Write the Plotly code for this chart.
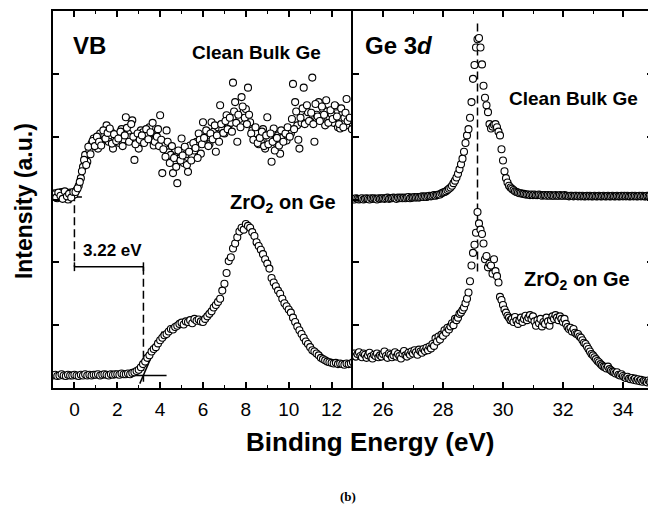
import numpy as np
import plotly.graph_objects as go

# ---------------- data ----------------
# Valence band (VB) energy grid, eV
vb_energy = np.round(np.arange(-1.0, 13.0001, 0.1), 2)
vb_energy_b = np.round(np.arange(-0.95, 12.96, 0.1), 2)
vb_clean = [
    3.05, 3.10, 3.02, 3.08, 3.12, 3.04, 3.09, 3.00, 3.11, 3.06,
    3.08, 3.15, 3.22, 3.34, 3.52, 3.71, 3.60, 3.78, 3.89, 3.97,
    3.88, 3.81, 4.05, 3.95, 4.02, 4.18, 3.92, 4.08, 3.81, 3.98,
    4.02, 3.90, 4.12, 3.96, 4.31, 4.05, 3.99, 4.26, 3.63, 3.94,
    3.81, 4.10, 4.07, 3.98, 4.03, 4.15, 3.95, 3.86, 4.02, 4.12,
    4.34, 3.42, 3.88, 4.10, 3.75, 3.71, 3.42, 3.68, 3.26, 3.65,
    3.97, 3.58, 3.72, 3.44, 3.86, 3.70, 3.78, 3.92, 4.05, 3.73,
    4.23, 3.90, 4.02, 3.88, 4.23, 4.08, 3.76, 4.15, 4.50, 4.12,
    4.05, 4.34, 4.18, 4.22, 4.86, 4.55, 3.92, 4.28, 4.63, 4.40,
    4.44, 4.78, 4.23, 4.10, 3.99, 4.05, 3.88, 3.92, 4.12, 3.81,
    4.31, 3.95, 3.60, 4.13, 3.90, 4.02, 3.73, 3.98, 4.08, 3.94,
    4.10, 4.05, 4.84, 4.55, 4.18, 3.81, 4.22, 4.78, 4.32, 4.39,
    4.25, 4.94, 3.92, 4.35, 4.55, 4.28, 4.44, 4.18, 4.40, 4.30,
    4.36, 4.22, 4.48, 4.15, 4.13, 4.36, 4.30, 4.60, 4.18, 4.25,
    4.20,
]
vb_clean_b = [
    3.08, 3.03, 3.11, 3.06, 3.01, 3.13, 3.05, 3.09, 3.03, 3.12,
    3.12, 3.18, 3.28, 3.45, 3.63, 3.55, 3.84, 3.72, 3.93, 3.85,
    4.00, 3.92, 3.86, 4.10, 3.97, 4.06, 4.13, 3.89, 4.04, 3.93,
    3.97, 4.08, 3.85, 4.02, 4.14, 3.92, 4.20, 4.00, 3.88, 4.05,
    3.95, 4.02, 3.90, 4.12, 3.96, 4.07, 4.22, 3.92, 4.00, 3.85,
    3.95, 3.80, 3.68, 3.92, 3.58, 3.85, 3.66, 3.52, 3.78, 3.62,
    3.70, 3.84, 3.55, 3.76, 3.62, 3.90, 3.82, 3.66, 3.95, 3.88,
    3.98, 4.10, 3.85, 4.05, 3.96, 4.18, 4.02, 3.92, 4.20, 4.06,
    4.25, 4.12, 4.30, 4.08, 4.40, 4.22, 4.35, 4.15, 4.48, 4.30,
    4.20, 4.35, 4.05, 3.95, 4.15, 3.90, 3.98, 4.08, 3.85, 4.02,
    3.88, 4.05, 3.92, 3.78, 3.98, 3.86, 4.10, 3.92, 4.05, 4.15,
    4.00, 4.28, 4.12, 4.40, 3.95, 4.30, 4.45, 4.20, 4.50, 4.25,
    4.38, 4.20, 4.52, 4.32, 4.25, 4.48, 4.35, 4.58, 4.22, 4.42,
    4.28, 4.50, 4.32, 4.20, 4.45, 4.15, 4.38, 4.25, 4.30, 4.12,
]
vb_zro2 = [
    0.20, 0.21, 0.19, 0.20, 0.22, 0.20, 0.19, 0.21, 0.20, 0.20,
    0.21, 0.20, 0.19, 0.21, 0.20, 0.22, 0.20, 0.21, 0.20, 0.21,
    0.21, 0.22, 0.20, 0.21, 0.22, 0.21, 0.20, 0.22, 0.21, 0.22,
    0.22, 0.21, 0.23, 0.22, 0.22, 0.23, 0.22, 0.24, 0.25, 0.27,
    0.29, 0.33, 0.38, 0.42, 0.48, 0.52, 0.58, 0.62, 0.65, 0.71,
    0.76, 0.80, 0.84, 0.86, 0.90, 0.94, 0.93, 0.97, 0.99, 1.02,
    1.04, 1.01, 1.06, 1.05, 1.08, 1.03, 1.10, 1.07, 1.09, 1.06,
    1.05, 1.10, 1.14, 1.18, 1.22, 1.28, 1.32, 1.37, 1.42, 1.55,
    1.66, 1.83, 2.02, 2.08, 2.22, 2.30, 2.40, 2.49, 2.55, 2.52,
    2.61, 2.58, 2.55, 2.48, 2.42, 2.32, 2.26, 2.20, 2.13, 2.05,
    1.98, 1.90, 1.75, 1.68, 1.62, 1.55, 1.50, 1.42, 1.35, 1.30,
    1.25, 1.20, 1.12, 1.05, 0.98, 0.92, 0.86, 0.80, 0.74, 0.70,
    0.65, 0.60, 0.58, 0.55, 0.52, 0.48, 0.46, 0.44, 0.42, 0.41,
    0.40, 0.39, 0.40, 0.38, 0.39, 0.38, 0.37, 0.39, 0.38, 0.39,
    0.41,
]

# Ge 3d core level energy grid, eV
ge_energy = np.round(np.arange(25.0, 35.0001, 0.05), 2)
ge_clean = [
    3.01, 3.00, 3.02, 3.01, 3.00, 3.01, 3.02, 3.00, 3.01, 3.02, 3.01, 3.00, 3.02, 3.01, 3.02, 3.01, 3.00, 3.02, 3.01, 3.02,
    3.02, 3.01, 3.02, 3.03, 3.01, 3.02, 3.02, 3.03, 3.02, 3.01, 3.03, 3.02, 3.03, 3.02, 3.03, 3.02, 3.03, 3.04, 3.02, 3.03,
    3.03, 3.04, 3.03, 3.04, 3.03, 3.04, 3.05, 3.04, 3.05, 3.04, 3.05, 3.06, 3.05, 3.06, 3.07, 3.06, 3.07, 3.08, 3.08, 3.10,
    3.11, 3.12, 3.13, 3.15, 3.17, 3.19, 3.22, 3.26, 3.30, 3.35, 3.41, 3.48, 3.56, 3.65, 3.76, 3.90, 4.02, 4.12, 4.30, 4.55,
    4.92, 5.14, 5.42, 5.55, 5.57, 5.42, 5.15, 4.81, 4.62, 4.50, 4.39, 4.20, 4.13, 4.16, 4.19, 4.20, 4.15, 4.08, 4.02, 3.80,
    3.62, 3.45, 3.34, 3.27, 3.22, 3.19, 3.17, 3.15, 3.13, 3.12, 3.11, 3.10, 3.10, 3.09, 3.09, 3.08, 3.08, 3.08, 3.07, 3.08,
    3.07, 3.08, 3.07, 3.07, 3.08, 3.07, 3.06, 3.07, 3.07, 3.06, 3.07, 3.06, 3.07, 3.06, 3.06, 3.07, 3.06, 3.06, 3.07, 3.06,
    3.06, 3.07, 3.06, 3.06, 3.05, 3.06, 3.06, 3.05, 3.06, 3.06, 3.05, 3.06, 3.05, 3.06, 3.05, 3.05, 3.06, 3.05, 3.06, 3.05,
    3.05, 3.06, 3.05, 3.05, 3.06, 3.05, 3.05, 3.06, 3.05, 3.05, 3.06, 3.05, 3.05, 3.06, 3.05, 3.05, 3.06, 3.05, 3.05, 3.06,
    3.05, 3.06, 3.05, 3.06, 3.05, 3.05, 3.06, 3.05, 3.06, 3.05, 3.05, 3.06, 3.05, 3.06, 3.05, 3.05, 3.06, 3.05, 3.06, 3.05,
    3.05,
]
ge_zro2 = [
    0.52, 0.55, 0.50, 0.54, 0.57, 0.51, 0.49, 0.55, 0.53, 0.48, 0.52, 0.56, 0.50, 0.47, 0.53, 0.51, 0.55, 0.49, 0.52, 0.50,
    0.54, 0.58, 0.51, 0.48, 0.55, 0.53, 0.49, 0.52, 0.57, 0.50, 0.54, 0.51, 0.47, 0.55, 0.59, 0.52, 0.50, 0.56, 0.53, 0.58,
    0.55, 0.60, 0.57, 0.53, 0.61, 0.58, 0.56, 0.62, 0.59, 0.64, 0.60, 0.66, 0.63, 0.70, 0.67, 0.79, 0.74, 0.82, 0.77, 0.85,
    0.83, 0.92, 0.88, 0.96, 0.93, 0.98, 1.03, 1.00, 1.10, 1.08, 1.12, 1.18, 1.20, 1.24, 1.28, 1.35, 1.42, 1.52, 1.70, 1.95,
    2.15, 2.28, 2.47, 2.80, 2.62, 2.52, 2.45, 2.30, 2.05, 2.10, 1.92, 1.98, 1.95, 1.82, 2.05, 1.86, 1.78, 1.68, 1.45, 1.40,
    1.32, 1.25, 1.20, 1.15, 1.12, 1.08, 1.10, 1.05, 1.13, 1.07, 1.02, 1.08, 1.12, 1.05, 1.10, 1.15, 1.08, 1.12, 1.16, 1.10,
    1.14, 1.06, 0.99, 1.08, 1.03, 1.10, 0.98, 1.05, 1.02, 1.12, 1.06, 0.99, 1.08, 1.14, 1.10, 1.16, 1.12, 1.08, 1.14, 1.10,
    1.05, 1.10, 1.02, 0.97, 0.94, 0.96, 0.90, 0.94, 0.88, 0.86, 0.86, 0.82, 0.80, 0.76, 0.72, 0.70, 0.66, 0.62, 0.58, 0.54,
    0.52, 0.49, 0.46, 0.43, 0.41, 0.38, 0.36, 0.34, 0.33, 0.31, 0.34, 0.30, 0.28, 0.26, 0.25, 0.23, 0.25, 0.21, 0.20, 0.22,
    0.19, 0.17, 0.16, 0.18, 0.15, 0.14, 0.16, 0.13, 0.15, 0.12, 0.14, 0.11, 0.13, 0.10, 0.12, 0.11, 0.09, 0.12, 0.10, 0.11,
    0.10,
]

# guide lines (linear extrapolations / markers), data units
clean_base_x = [-1.0, 0.35]
clean_base_y = [3.04, 3.04]
clean_edge_x = [-0.19, 0.9]
clean_edge_y = [2.94, 3.92]
zro2_base_x = [-1.0, 4.3]
zro2_base_y = [0.2, 0.2]
zro2_edge_x = [3.05, 4.1]
zro2_edge_y = [0.07, 0.9]
vbm_clean = 0.0
vbm_zro2 = 3.22
offset_level = 1.93
ge3d_peak = 29.15

vb_ticks = [0, 2, 4, 6, 8, 10, 12]
ge_ticks = [26, 28, 30, 32, 34]

# ---------------- figure ----------------
fig = go.Figure()
BLACK = "black"
line_style = dict(color=BLACK, width=1.5)
dash_style = dict(color=BLACK, width=1.5, dash="8px,4px")

# guide lines (drawn under markers)
fig.add_trace(go.Scatter(x=clean_base_x, y=clean_base_y, mode="lines", line=line_style, xaxis="x", yaxis="y"))
fig.add_trace(go.Scatter(x=clean_edge_x, y=clean_edge_y, mode="lines", line=line_style, xaxis="x", yaxis="y"))
fig.add_trace(go.Scatter(x=zro2_base_x, y=zro2_base_y, mode="lines", line=line_style, xaxis="x", yaxis="y"))
fig.add_trace(go.Scatter(x=zro2_edge_x, y=zro2_edge_y, mode="lines", line=line_style, xaxis="x", yaxis="y"))
fig.add_trace(go.Scatter(x=[vbm_clean, vbm_clean], y=[3.1, offset_level], mode="lines", line=dash_style, xaxis="x", yaxis="y"))
fig.add_trace(go.Scatter(x=[vbm_zro2, vbm_zro2], y=[offset_level, 0.1], mode="lines", line=dash_style, xaxis="x", yaxis="y"))
fig.add_trace(go.Scatter(x=[vbm_clean, vbm_zro2], y=[offset_level, offset_level], mode="lines", line=line_style, xaxis="x", yaxis="y"))
for xv in (vbm_clean, vbm_zro2):
    fig.add_trace(go.Scatter(x=[xv, xv], y=[offset_level - 0.07, offset_level + 0.07], mode="lines",
                             line=line_style, xaxis="x", yaxis="y"))
fig.add_trace(go.Scatter(x=[ge3d_peak, ge3d_peak], y=[5.8, 1.85], mode="lines", line=dash_style, xaxis="x2", yaxis="y2"))

marker = dict(symbol="circle", size=7, color="white", line=dict(color=BLACK, width=1.1))
fig.add_trace(go.Scatter(x=vb_energy, y=vb_zro2, mode="markers", marker=marker, xaxis="x", yaxis="y"))
fig.add_trace(go.Scatter(x=vb_energy, y=vb_clean, mode="markers", marker=marker, xaxis="x", yaxis="y"))
fig.add_trace(go.Scatter(x=vb_energy_b, y=vb_clean_b, mode="markers", marker=marker, xaxis="x", yaxis="y"))
fig.add_trace(go.Scatter(x=ge_energy, y=ge_zro2, mode="markers", marker=marker, xaxis="x2", yaxis="y2"))
fig.add_trace(go.Scatter(x=ge_energy, y=ge_clean, mode="markers", marker=marker, xaxis="x2", yaxis="y2"))

FONT = "Liberation Sans, Arial, sans-serif"
xcommon = dict(showline=True, linewidth=2, linecolor=BLACK, mirror="ticks", ticks="inside",
               ticklen=6, tickwidth=1.5, tickcolor=BLACK, showgrid=False, zeroline=False,
               ticklabelstandoff=3,
               tickfont=dict(family=FONT, size=19, color=BLACK),
               minor=dict(ticks="inside", ticklen=3, tickwidth=1, tickcolor=BLACK, dtick=1))
ycommon = dict(showline=True, linewidth=2, linecolor=BLACK, ticks="inside",
               ticklen=6, tickwidth=1.5, tickcolor=BLACK, showgrid=False, zeroline=False,
               range=[0, 6], dtick=1, showticklabels=False)

fig.update_layout(
    width=648, height=498,
    margin=dict(l=45, r=1, t=1, b=118),
    paper_bgcolor="white", plot_bgcolor="white",
    showlegend=False,
    xaxis=dict(domain=[0, 0.5], range=[-1, 13], tickvals=vb_ticks, anchor="y", **xcommon),
    yaxis=dict(anchor="x", mirror=False, **ycommon),
    xaxis2=dict(domain=[0.5, 1], range=[25, 35], tickvals=ge_ticks, anchor="y2", **xcommon),
    yaxis2=dict(anchor="x2", mirror="ticks", **ycommon),
)

def label(text, x, y, xref, yref, size, xanchor="center", **kw):
    fig.add_annotation(text=text, x=x, y=y, xref=xref, yref=yref, showarrow=False,
                       xanchor=xanchor, yanchor="middle",
                       font=dict(family=FONT, size=size, color=BLACK), **kw)

label("<b>VB</b>", -0.15, 5.45, "x", "y", 24, xanchor="left")
label("<b>Clean Bulk Ge</b>", 8.49, 5.34, "x", "y", 19)
label("<b>ZrO<sub>2</sub> on Ge</b>", 9.72, 2.93, "x", "y", 20)
label("<b>3.22 eV</b>", 1.76, 2.19, "x", "y", 17)
label("<b>Ge 3<i>d</i></b>", 25.34, 5.45, "x2", "y2", 24, xanchor="left")
label("<b>Clean Bulk Ge</b>", 32.35, 4.6, "x2", "y2", 19)
label("<b>ZrO<sub>2</sub> on Ge</b>", 32.48, 1.71, "x2", "y2", 20)

label("<b>Binding Energy (eV)</b>", 0.528, -0.1425, "paper", "paper", 26)
label("<b>Intensity (a.u.)</b>", -0.0482, 0.496, "paper", "paper", 23, textangle=-90)
fig.add_annotation(text="<b>(b)</b>", x=0.4917, y=-0.2876, xref="paper", yref="paper", showarrow=False,
                   xanchor="center", yanchor="middle",
                   font=dict(family="Liberation Serif, Times New Roman, serif", size=13, color=BLACK))

fig.write_html("out.html")
